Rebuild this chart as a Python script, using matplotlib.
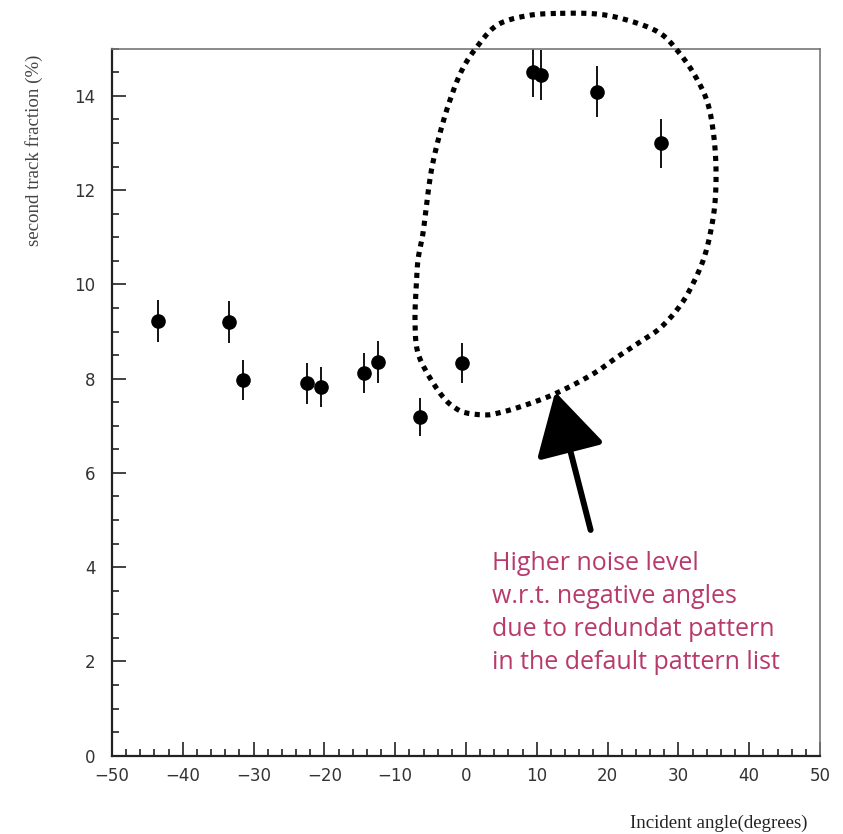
import numpy as np
import matplotlib
matplotlib.use("Agg")
import matplotlib.pyplot as plt
from matplotlib.ticker import MultipleLocator

# measured points: incident angle (deg), second track fraction (%), error
angle = [-43.5, -33.5, -31.5, -22.5, -20.5, -14.4, -12.4, -6.5, -0.5,
         9.5, 10.6, 18.5, 27.5]
frac = [9.22, 9.20, 7.97, 7.90, 7.82, 8.12, 8.35, 7.18, 8.33,
        14.50, 14.44, 14.09, 12.99]
err = [0.44, 0.44, 0.43, 0.43, 0.43, 0.43, 0.44, 0.40, 0.42,
       0.52, 0.53, 0.54, 0.52]

# hand drawn loop around the positive angle points (data coords)
loop_x = [13.3, 18.9, 23.6, 27.4, 29.8, 32.1, 34.0, 34.9, 35.3, 35.2,
          34.6, 33.5, 31.6, 29.8, 27.4, 25.0, 21.75, 18.9, 15.7, 12.3,
          9.75, 7.2, 5.1, 3.0, 0.1, -1.55, -3.25, -5.5, -6.9, -7.2,
          -7.06, -6.78, -6.07, -5.5, -4.8, -3.67, -2.26, -0.56, 1.55, 4.4, 8.6]
loop_y = [15.75, 15.73, 15.57, 15.33, 14.97, 14.49, 13.91, 13.27, 12.53, 11.79,
          11.15, 10.51, 9.88, 9.46, 9.07, 8.82, 8.50, 8.19, 7.91, 7.66,
          7.51, 7.38, 7.29, 7.23, 7.27, 7.38, 7.61, 8.12, 8.61, 9.25,
          9.88, 10.52, 11.09, 11.79, 12.49, 13.21, 13.91, 14.55, 15.04, 15.50, 15.70]

note = ("Higher noise level\n"
        "w.r.t. negative angles\n"
        "due to redundat pattern\n"
        "in the default pattern list")


def closed_spline(xs, ys, nseg=12):
    # catmull-rom through the loop points, closed
    p = np.column_stack([xs, ys])
    n = len(p)
    out = []
    t = np.linspace(0, 1, nseg, endpoint=False)[:, None]
    for i in range(n):
        p0, p1, p2, p3 = p[i - 1], p[i], p[(i + 1) % n], p[(i + 2) % n]
        seg = 0.5 * ((2 * p1) + (-p0 + p2) * t
                     + (2 * p0 - 5 * p1 + 4 * p2 - p3) * t ** 2
                     + (-p0 + 3 * p1 - 3 * p2 + p3) * t ** 3)
        out.append(seg)
    out.append(p[:1])
    out = np.vstack(out)
    return out[:, 0], out[:, 1]


fig = plt.figure(figsize=(8.43, 8.34), dpi=100)
ax = fig.add_axes([112 / 843, 1 - 755.7 / 834, (820 - 112) / 843, (755.7 - 48.7) / 834])

ax.errorbar(angle, frac, yerr=err, fmt='o', color='black', ms=9.5,
            elinewidth=1.3, capsize=0)

ax.set_xlim(-50, 50)
ax.set_ylim(0, 15)

ax.xaxis.set_major_locator(MultipleLocator(10))
ax.xaxis.set_minor_locator(MultipleLocator(2))
ax.yaxis.set_major_locator(MultipleLocator(2))
ax.yaxis.set_minor_locator(MultipleLocator(0.5))

ax.tick_params(which='both', direction='in', top=False, right=False,
               color='#222222', width=1.2)
ax.tick_params(which='major', length=10)
ax.tick_params(which='minor', length=5)
ax.tick_params(axis='x', which='major', pad=8)
ax.tick_params(axis='y', which='major', pad=12)
for lab in ax.get_xticklabels() + ax.get_yticklabels():
    lab.set_fontfamily('DejaVu Sans')
    lab.set_fontsize(12)
    lab.set_color('#333333')

for s in ['left', 'bottom']:
    ax.spines[s].set_color('#222222')
    ax.spines[s].set_linewidth(1.6)
for s in ['top', 'right']:
    ax.spines[s].set_color('#777777')
    ax.spines[s].set_linewidth(1.2)

fig.text(34 / 843, 1 - 55 / 834, "second track fraction (%)", rotation=90,
         ha='center', va='top', family='Liberation Serif', fontsize=13.6,
         color='#444444')
fig.text(807 / 843, 1 - 828 / 834, "Incident angle(degrees)", ha='right',
         va='baseline', family='Liberation Serif', fontsize=13.6,
         color='#222222')

lx, ly = closed_spline(loop_x, loop_y)
ax.plot(lx, ly, color='black', lw=3.7, linestyle=(0, (1, 1.05)),
        clip_on=False, zorder=3)

ax.annotate('', xy=(12.6, 7.72), xytext=(17.6, 4.79),
            arrowprops=dict(arrowstyle='-|>,head_length=1.6,head_width=0.9',
                            mutation_scale=24, lw=4.3, color='black',
                            shrinkA=0, shrinkB=0))

ax.text(492 / 843, 1 - 551 / 834, note, transform=fig.transFigure,
        ha='left', va='top', family='Open Sans', fontsize=18,
        color='#b83a6b', linespacing=1.42)

fig.savefig('out.png', dpi=100)
